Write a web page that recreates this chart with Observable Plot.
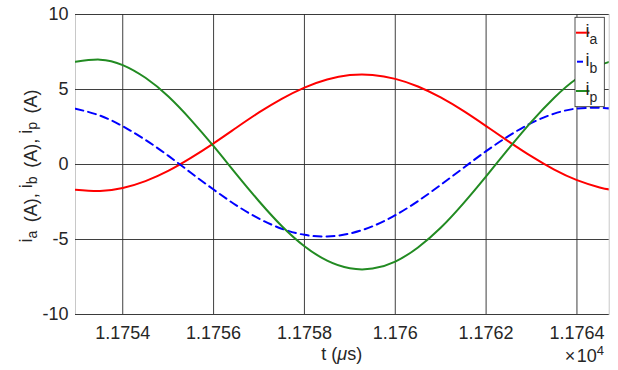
<!DOCTYPE html>
<html><head><meta charset="utf-8">
<script src="https://cdn.jsdelivr.net/npm/d3@7"></script>
<script src="https://cdn.jsdelivr.net/npm/@observablehq/plot@0.6"></script>
<style>
body{margin:0;background:#fff}
svg{font-family:"Liberation Sans",Arial,Helvetica,sans-serif}
</style>
</head><body><div id="chart"></div>
<script>
// time in microseconds
const time = [11752.96, 11753.5, 11754.0, 11754.5, 11755.0, 11755.5, 11756.0, 11756.5, 11757.0, 11757.5, 11758.0, 11758.5, 11759.0, 11759.5, 11760.0, 11760.5, 11761.0, 11761.5, 11762.0, 11762.5, 11763.0, 11763.5, 11764.0, 11764.5, 11764.71];
const ia = [-1.69, -1.77, -1.57, -1.11, -0.43, 0.44, 1.41, 2.45, 3.47, 4.38, 5.13, 5.67, 5.96, 5.97, 5.71, 5.20, 4.47, 3.57, 2.56, 1.53, 0.54, -0.34, -1.04, -1.53, -1.66];
const ib = [3.72, 3.26, 2.55, 1.64, 0.59, -0.55, -1.67, -2.72, -3.61, -4.28, -4.69, -4.80, -4.60, -4.12, -3.38, -2.44, -1.36, -0.23, 0.89, 1.91, 2.77, 3.39, 3.73, 3.78, 3.74];
const ip = [6.85, 6.99, 6.63, 5.78, 4.55, 2.98, 1.22, -0.64, -2.45, -4.10, -5.45, -6.41, -6.92, -6.94, -6.47, -5.53, -4.22, -2.59, -0.79, 1.07, 2.86, 4.45, 5.73, 6.60, 6.84];
const xTicks = [11754, 11756, 11758, 11760, 11762, 11764];
const yTicks = [-10, -5, 0, 5, 10];
const seriesKeys = ["a", "b", "p"];
const seriesColors = ["#ff0000", "#0000ff", "#228b22"];
const seriesDash = [null, "8,5", null];
const xDomain = [11752.96, 11764.71];
const yDomain = [-10, 10];

const series = [ia, ib, ip].map(vals => time.map((t, i) => ({t, v: vals[i]})));

const textColor = "#262626";
const fmtX = d => String(+(d / 1e4).toFixed(4));
const plot = Plot.plot({
  width: 618,
  height: 370,
  marginLeft: 75,
  marginRight: 9.3,
  marginTop: 14,
  marginBottom: 56,
  style: {fontSize: "18px", color: textColor, background: "#fff", fontFamily: "'Liberation Sans', Arial, sans-serif"},
  x: {domain: xDomain, ticks: xTicks, tickFormat: fmtX, label: null},
  y: {domain: yDomain, ticks: yTicks, label: null},
  marks: [
    Plot.frame({stroke: "#c8c8c8"}),
    Plot.gridX(xTicks, {stroke: "#2a2a2a", strokeOpacity: 0.9, strokeWidth: 1}),
    Plot.gridY(yTicks, {stroke: "#2a2a2a", strokeOpacity: 0.9, strokeWidth: 1}),
    Plot.axisX(xTicks, {tickSize: 0, tickPadding: 12, fill: textColor, tickFormat: fmtX, label: null}),
    Plot.axisY(yTicks, {tickSize: 0, tickPadding: 7, fill: textColor, tickFormat: d => String(d), label: null}),
    ...series.map((data, k) => Plot.line(data, {
      x: "t", y: "v", stroke: seriesColors[k], strokeWidth: 2,
      strokeDasharray: seriesDash[k] || undefined, curve: "natural", clip: true
    }))
  ]
});
document.getElementById("chart").appendChild(plot);

const svg = d3.select(plot);

// x label
const xl = svg.append("text").attr("x", 341.8).attr("y", 359.5).attr("text-anchor", "middle")
  .attr("fill", textColor).attr("font-size", 18).style("font-size", "18px");
xl.append("tspan").text("t (");
xl.append("tspan").attr("font-style", "italic").text("\u03bc");
xl.append("tspan").text("s)");

// exponent
const ex = svg.append("text").attr("x", 604).attr("y", 362).attr("text-anchor", "end")
  .attr("fill", textColor).attr("font-size", 18).style("font-size", "18px");
ex.append("tspan").text("\u00d7\u200a10");
ex.append("tspan").attr("dy", -7).attr("font-size", 13).style("font-size", "13px").text("4");

// y label
const yl = svg.append("text").attr("transform", "translate(32,166) rotate(-90)")
  .attr("text-anchor", "middle").attr("fill", textColor).style("font-size", "18px");
seriesKeys.forEach((k, i) => {
  yl.append("tspan").attr("dy", i === 0 ? 0 : -5).text("i");
  yl.append("tspan").attr("dy", 5).style("font-size", "14px").text(k);
  yl.append("tspan").attr("dy", -5).text("\u2009");
  yl.append("tspan").attr("dy", 5).text(i < seriesKeys.length - 1 ? " (A), " : " (A)");
});

// legend
const lg = svg.append("g");
lg.append("rect").attr("x", 575).attr("y", 17.3).attr("width", 29.3).attr("height", 89.4)
  .attr("fill", "#fff").attr("stroke", "#262626").attr("stroke-width", 0.8);
const rowY = [32.7, 61.7, 91];
seriesKeys.forEach((k, i) => {
  lg.append("line").attr("x1", i === 1 ? 577 : 576).attr("x2", i === 1 ? 583 : 589.5)
    .attr("y1", rowY[i]).attr("y2", rowY[i]).attr("stroke", seriesColors[i]).attr("stroke-width", 2);
  const t = lg.append("text").attr("x", 591.5).attr("y", rowY[i] + 4).attr("fill", textColor).style("font-size", "18px");
  t.append("tspan").text("i");
  t.append("tspan").attr("dy", 7).style("font-size", "14px").text(k);
});
</script>
</body></html>
